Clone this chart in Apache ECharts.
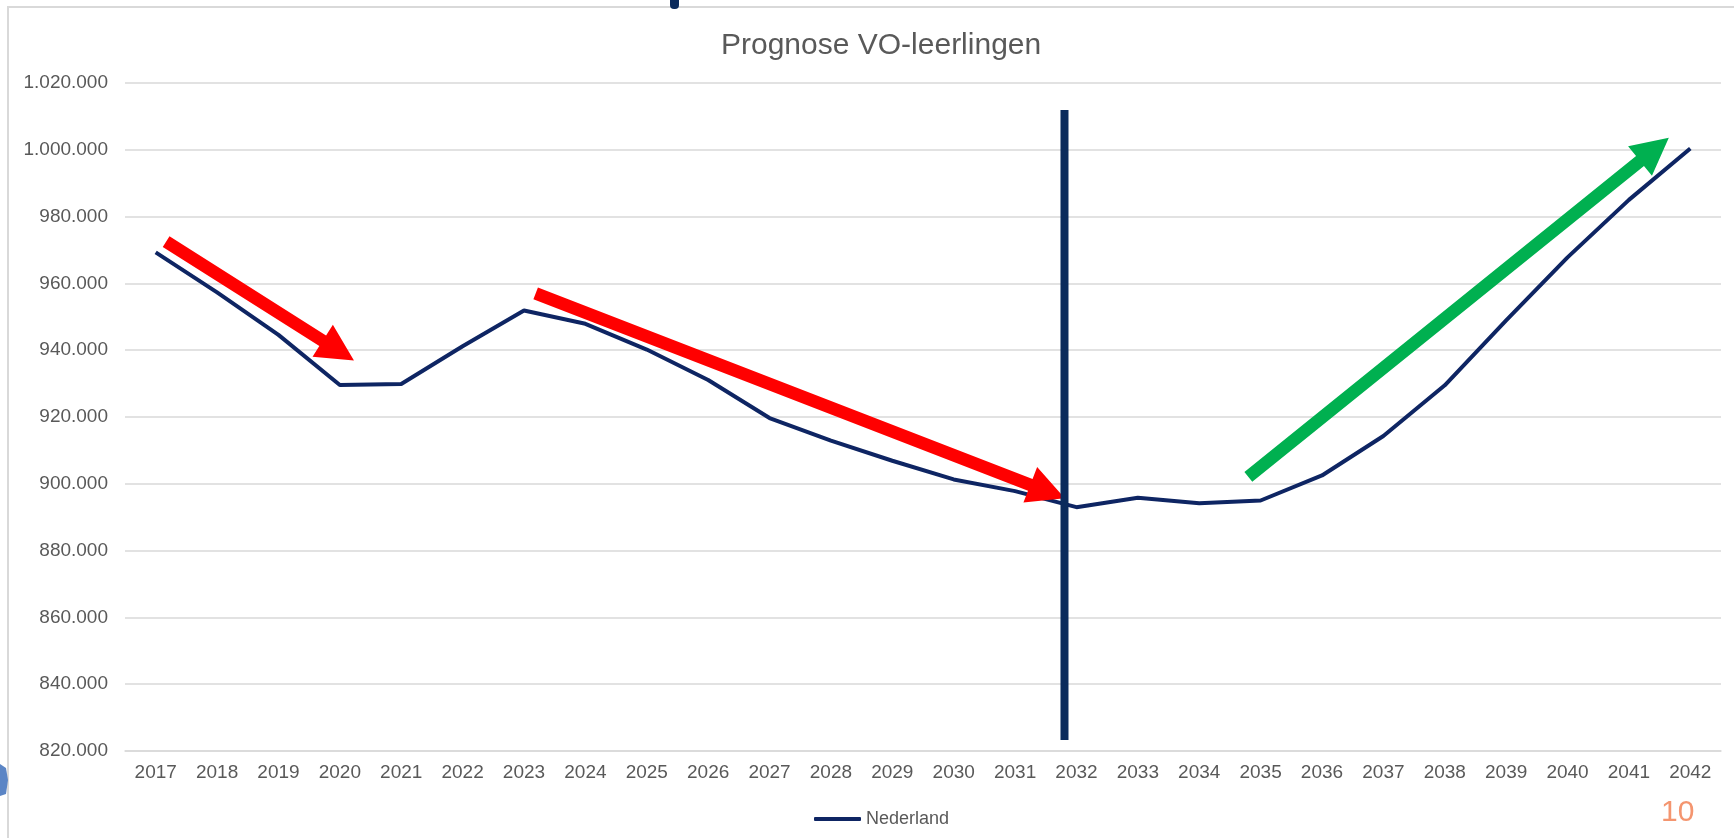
<!DOCTYPE html>
<html>
<head>
<meta charset="utf-8">
<script src="https://cdn.jsdelivr.net/npm/echarts@6/dist/echarts.min.js"></script>
<style>
  html, body { margin: 0; padding: 0; background: #fff; }
  #container { width: 1734px; height: 838px; }
</style>
</head>
<body>
<div id="container"></div>
<script>
(function () {

    // categories and values
    const years = ['2017', '2018', '2019', '2020', '2021', '2022', '2023', '2024', '2025', '2026', '2027', '2028', '2029',
        '2030', '2031', '2032', '2033', '2034', '2035', '2036', '2037', '2038', '2039', '2040', '2041', '2042'];
    const nederland = [969300, 957300, 944600, 929600, 929900, 941200, 951900, 947900, 940200, 931100, 919700, 912900, 906900,
        901300, 897800, 893000, 895800, 894200, 895000, 902500, 914300, 929500, 948900, 967800, 985000, 1000400];
    const yTicks = { min: 820000, max: 1020000, step: 20000 };

    // annotations, in [categoryIndex, value] space: [x1, y1, x2, y2]
    const redArrows = [
        [0.17, 972500, 3.23, 936900],
        [6.19, 957000, 14.81, 895700]
    ];
    const greenArrows = [
        [17.80, 902100, 24.65, 1003600]
    ];
    const marker = [[14.805, 823300], [14.805, 1011900]];

    const thousands = (v) => String(v).replace(/\B(?=(\d{3})+(?!\d))/g, '.');

    // arrow shape: shaft + triangular head
    const arrowItem = function (params, api) {
        let p1 = api.coord([api.value(0), api.value(1)]);
        let p2 = api.coord([api.value(2), api.value(3)]);
        let dx = p2[0] - p1[0], dy = p2[1] - p1[1];
        let len = Math.sqrt(dx * dx + dy * dy);
        let ux = dx / len, uy = dy / len;
        let nx = -uy, ny = ux;
        let headLen = 37, headHalf = 19, shaftHalf = 6.3;
        let bx = p2[0] - ux * headLen, by = p2[1] - uy * headLen;
        let pts = [
            [p1[0] + nx * shaftHalf, p1[1] + ny * shaftHalf],
            [bx + nx * shaftHalf, by + ny * shaftHalf],
            [bx + nx * headHalf, by + ny * headHalf],
            [p2[0], p2[1]],
            [bx - nx * headHalf, by - ny * headHalf],
            [bx - nx * shaftHalf, by - ny * shaftHalf],
            [p1[0] - nx * shaftHalf, p1[1] - ny * shaftHalf]
        ];
        return {
            type: 'polygon',
            shape: { points: pts },
            style: { fill: api.visual('color') }
        };
    };

    const font = 'Liberation Sans';
    const grey = '#595959';

    var dom = document.getElementById('container');
    var myChart = echarts.init(dom, null, { renderer: 'canvas' });

    myChart.setOption({
        animation: false,
        textStyle: { fontFamily: font },
        title: {
            text: 'Prognose VO-leerlingen',
            left: 716,
            top: 26,
            textStyle: { fontFamily: font, fontSize: 30, fontWeight: 'normal', color: grey }
        },
        legend: {
            data: ['Nederland'],
            left: 809,
            top: 805,
            icon: 'roundRect',
            itemWidth: 47,
            itemHeight: 4,
            textStyle: { fontFamily: font, fontSize: 18, color: grey }
        },
        grid: { left: 125, right: 13, top: 83, bottom: 87, containLabel: false },
        xAxis: [
            {
                type: 'category',
                data: years,
                boundaryGap: true,
                axisLine: { lineStyle: { color: '#d9d9d9', width: 1.5 } },
                axisTick: { show: false },
                axisLabel: { color: grey, fontFamily: font, fontSize: 19, margin: 12, interval: 0 }
            },
            {
                type: 'value',
                min: -0.5,
                max: 25.5,
                show: false
            }
        ],
        yAxis: {
            type: 'value',
            min: yTicks.min,
            max: yTicks.max,
            interval: yTicks.step,
            axisLine: { show: false },
            axisTick: { show: false },
            splitLine: { lineStyle: { color: '#d9d9d9', width: 1.5 } },
            axisLabel: { color: grey, fontFamily: font, fontSize: 19, margin: 17, formatter: thousands }
        },
        graphic: [
            {
                type: 'rect',
                shape: { x: 8, y: 7, width: 1800, height: 900 },
                style: { fill: null, stroke: '#d9d9d9', lineWidth: 2 },
                z: -1
            },
            {
                // slide fragments outside the chart box
                type: 'rect',
                shape: { x: 670, y: -6, width: 9, height: 15, r: 4 },
                style: { fill: '#0B2B5C' }
            },
            {
                type: 'polygon',
                shape: { points: [[0, 764], [6, 768], [8, 780], [6, 794], [0, 796]] },
                style: { fill: '#5B85C5' }
            },
            {
                type: 'text',
                left: 1661,
                top: 798,
                style: { text: '10', fontFamily: font, fontSize: 30, fill: '#F4956F' }
            }
        ],
        series: [
            {
                name: 'Nederland',
                type: 'line',
                data: nederland,
                symbol: 'none',
                color: '#0E2563',
                lineStyle: { width: 4, color: '#0E2563' },
                z: 3
            },
            {
                name: 'red',
                type: 'custom',
                xAxisIndex: 1,
                renderItem: arrowItem,
                data: redArrows,
                itemStyle: { color: '#FF0000' },
                encode: { x: [0, 2], y: [1, 3] },
                z: 4
            },
            {
                name: 'green',
                type: 'custom',
                xAxisIndex: 1,
                renderItem: arrowItem,
                data: greenArrows,
                itemStyle: { color: '#00B050' },
                encode: { x: [0, 2], y: [1, 3] },
                z: 4
            },
            {
                name: 'marker',
                type: 'line',
                xAxisIndex: 1,
                data: marker,
                symbol: 'none',
                lineStyle: { width: 8, color: '#0B2B5C', cap: 'butt' },
                z: 5
            }
        ]
    });

})();
</script>
</body>
</html>
